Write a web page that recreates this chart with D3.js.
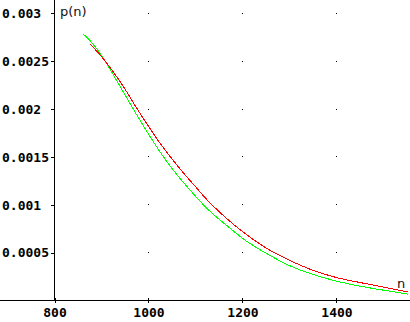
<!DOCTYPE html>
<html><head><meta charset="utf-8">
<script src="https://cdn.jsdelivr.net/npm/d3@7"></script>
<style>body{margin:0;background:#fff} svg{display:block}</style>
</head><body><svg id="c" width="410" height="322"></svg>
<script>
// ---- data ----
const xTicks = [800, 1000, 1200, 1400];
const xTickLabels = ["800", "1000", "1200", "1400"];
const yTicks = [0.0005, 0.001, 0.0015, 0.002, 0.0025, 0.003];
const yTickLabels = ["0.0005", "0.001", "0.0015", "0.002", "0.0025", "0.003"];
const redN = [875, 900, 925, 950, 975, 1000, 1025, 1050, 1075, 1100, 1125, 1150, 1175, 1200, 1250, 1300, 1325, 1350, 1375, 1400, 1450, 1500, 1553];
const redP = [0.002684, 0.00255, 0.00239, 0.00221, 0.00201, 0.00182, 0.00164, 0.00148, 0.00133, 0.00119, 0.00105, 0.00093, 0.00082, 0.00072, 0.00055, 0.00042, 0.000365, 0.000315, 0.000275, 0.00024, 0.000188, 0.00014, 0.0000885];
const greenN = [860, 875, 900, 925, 950, 975, 1000, 1025, 1050, 1075, 1100, 1125, 1150, 1175, 1200, 1250, 1300, 1350, 1400, 1450, 1500, 1553];
const greenP = [0.00279, 0.00272, 0.00256, 0.00236, 0.00215, 0.00194, 0.00174, 0.00155, 0.00138, 0.00123, 0.00109, 0.00096, 0.00085, 0.00075, 0.00065, 0.000495, 0.000365, 0.000272, 0.000203, 0.00015, 0.000108, 0.000066];
const yLabel = "p(n)";
const xLabel = "n";

// ---- scales ----
const W = 410, H = 322;
const x = d3.scaleLinear().domain([800, 1556.4]).range([54.5, 410]);
const y = d3.scaleLinear().domain([0, 0.003141]).range([300.5, 0]);

const svg = d3.select("#c");

// grid dots
const dots = [];
xTicks.filter(t => t !== 800).forEach(tx => yTicks.forEach(ty => dots.push([tx, ty])));
svg.append("g").selectAll("rect").data(dots).join("rect")
  .attr("x", d => Math.floor(x(d[0])))
  .attr("y", d => Math.floor(y(d[1])))
  .attr("width", 1).attr("height", 1).attr("fill", "#000");

// axis lines
svg.append("line").attr("x1", 0).attr("x2", W).attr("y1", y(0)).attr("y2", y(0))
  .attr("stroke", "#000").attr("shape-rendering", "crispEdges");
svg.append("line").attr("x1", x(800)).attr("x2", x(800)).attr("y1", 0).attr("y2", y(0))
  .attr("stroke", "#000").attr("shape-rendering", "crispEdges");

// y axis ticks
const yAxis = d3.axisLeft(y).tickValues(yTicks).tickSizeInner(4).tickSizeOuter(0)
  .tickFormat((d, i) => yTickLabels[i]);
const gy = svg.append("g").attr("transform", `translate(${x(800)},0)`).call(yAxis);
gy.select(".domain").remove();
gy.selectAll(".tick line").attr("stroke", "#000").attr("shape-rendering", "crispEdges");
gy.selectAll(".tick text")
  .attr("x", 2 - x(800)).attr("dy", "0.32em").attr("text-anchor", "start")
  .attr("font-family", "'DejaVu Sans Mono', monospace").attr("font-weight", "bold")
  .attr("font-size", 13).attr("fill", "#000");

// x axis ticks
const xAxis = d3.axisBottom(x).tickValues(xTicks).tickSizeInner(-3).tickSizeOuter(0)
  .tickFormat((d, i) => xTickLabels[i]);
const gx = svg.append("g").attr("transform", `translate(0,${y(0)})`).call(xAxis);
gx.select(".domain").remove();
gx.selectAll(".tick line").attr("stroke", "#000").attr("y2", 2).attr("y1", -3).attr("shape-rendering", "crispEdges");
gx.selectAll(".tick text")
  .attr("y", 16).attr("dy", 0)
  .attr("font-family", "'DejaVu Sans Mono', monospace").attr("font-weight", "bold")
  .attr("font-size", 13).attr("fill", "#000");

// curves
const line = d3.line().x(d => x(d[0])).y(d => y(d[1])).curve(d3.curveMonotoneX);
const green = greenN.map((n, i) => [n, greenP[i]]);
const red = redN.map((n, i) => [n, redP[i]]);
svg.append("path").datum(green).attr("d", line).attr("fill", "none")
  .attr("stroke", "#00ff00").attr("stroke-width", 1).attr("shape-rendering", "crispEdges");
svg.append("path").datum(red).attr("d", line).attr("fill", "none")
  .attr("stroke", "#ff0000").attr("stroke-width", 1).attr("shape-rendering", "crispEdges");

// axis titles
svg.append("text").attr("x", 60).attr("y", 16).text(yLabel)
  .attr("font-family", "'DejaVu Sans', sans-serif").attr("font-size", 13).attr("fill", "#111");
svg.append("text").attr("x", 397).attr("y", 288).text(xLabel)
  .attr("font-family", "'DejaVu Sans', sans-serif").attr("font-size", 13).attr("fill", "#111");
</script>
</body></html>
